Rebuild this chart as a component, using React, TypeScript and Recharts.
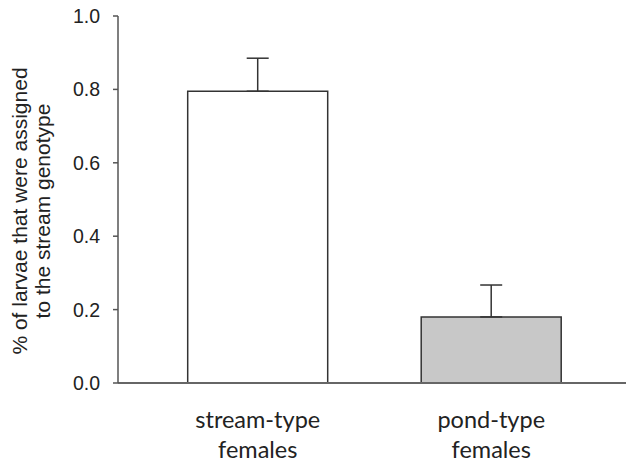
import { BarChart, Bar, XAxis, YAxis, ErrorBar, Cell } from "recharts";

const categories = ["stream-type females", "pond-type females"];
const proportions = [0.795, 0.18];
const errorsUp = [0.09, 0.087];
const yTicks = [0, 0.2, 0.4, 0.6, 0.8, 1.0];
const barFills = ["#ffffff", "#c8c8c8"];

const data = categories.map((name, i) => ({
  name,
  value: proportions[i],
  err: [0, errorsUp[i]],
}));

function CategoryTick({ x, y, payload }: any) {
  const words = String(payload.value).split(" ");
  return (
    <g transform={`translate(${x},${y})`}>
      {words.map((w: string, i: number) => (
        <text
          key={i}
          x={0}
          y={37 + i * 30}
          textAnchor="middle"
          fontFamily="Lato, 'Open Sans', sans-serif"
          fontSize={23.5}
          fill="#222"
        >
          {w}
        </text>
      ))}
    </g>
  );
}

function YTitle() {
  return (
    <g transform="translate(0,211) rotate(-90)">
      <text x={0} y={27} textAnchor="middle" fontFamily="'Liberation Sans', Arial, sans-serif" fontSize={21} fill="#222">
        % of larvae that were assigned
      </text>
      <text x={0} y={50} textAnchor="middle" fontFamily="'Liberation Sans', Arial, sans-serif" fontSize={21} fill="#222">
        to the stream genotype
      </text>
    </g>
  );
}

export default function App() {
  return (
    <div style={{ position: "absolute", left: 0, top: 0, background: "#fff" }}>
      <BarChart
        width={626}
        height={464}
        data={data}
        margin={{ top: 16, right: 0, bottom: 0, left: 0 }}
        barCategoryGap="20%"
      >
        <XAxis
          dataKey="name"
          height={81}
          axisLine={{ stroke: "#666", strokeWidth: 2 }}
          tickLine={false}
          tick={<CategoryTick />}
          padding={{ left: 23, right: 18 }}
          interval={0}
        />
        <YAxis
          width={118}
          domain={[0, 1]}
          ticks={yTicks}
          tickFormatter={(v: number) => v.toFixed(1)}
          axisLine={{ stroke: "#555", strokeWidth: 1.5 }}
          tickLine={{ stroke: "#555", strokeWidth: 1.5 }}
          tickSize={5}
          tickMargin={13}
          tick={{ fontSize: 19.5, fill: "#222", fontFamily: "'Liberation Sans', Arial, sans-serif" }}
          label={<YTitle />}
        />
        <Bar dataKey="value" stroke="#333" strokeWidth={1.5} isAnimationActive={false}>
          {data.map((d, i) => (
            <Cell key={d.name} fill={barFills[i]} />
          ))}
          <ErrorBar dataKey="err" width={11} stroke="#333" strokeWidth={1.5} direction="y" />
        </Bar>
      </BarChart>
    </div>
  );
}
